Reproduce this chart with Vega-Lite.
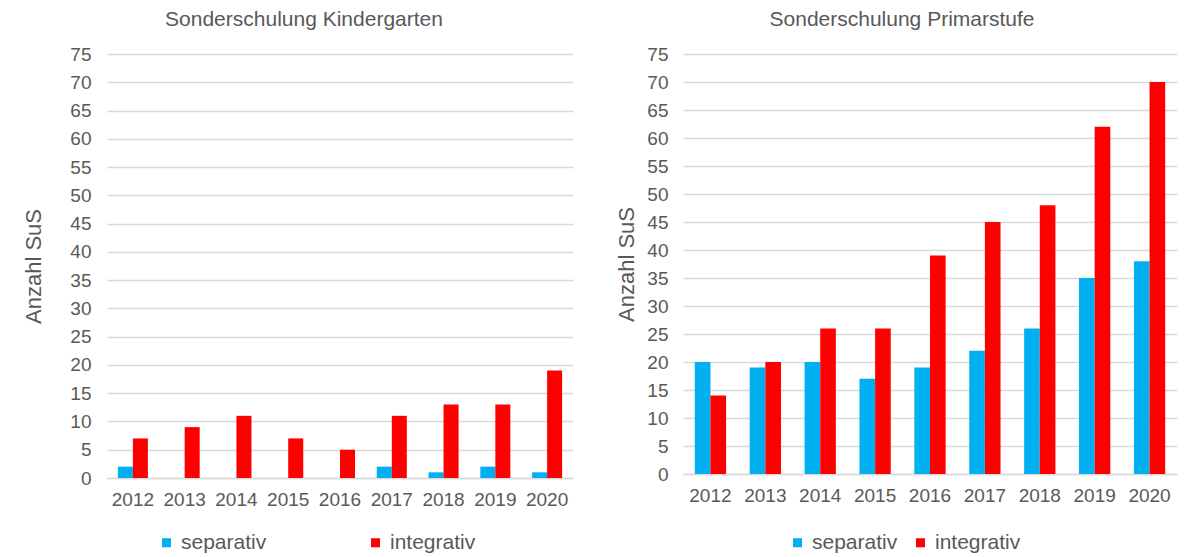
{
  "$schema": "https://vega.github.io/schema/vega-lite/v6.json",
  "background": "white",
  "padding": {"left": 22, "top": 9, "right": 5, "bottom": 5},
  "datasets": {
    "kindergarten": [
      {"Jahr": "2012", "Art": "separativ", "Anzahl": 2},
      {"Jahr": "2012", "Art": "integrativ", "Anzahl": 7},
      {"Jahr": "2013", "Art": "separativ", "Anzahl": 0},
      {"Jahr": "2013", "Art": "integrativ", "Anzahl": 9},
      {"Jahr": "2014", "Art": "separativ", "Anzahl": 0},
      {"Jahr": "2014", "Art": "integrativ", "Anzahl": 11},
      {"Jahr": "2015", "Art": "separativ", "Anzahl": 0},
      {"Jahr": "2015", "Art": "integrativ", "Anzahl": 7},
      {"Jahr": "2016", "Art": "separativ", "Anzahl": 0},
      {"Jahr": "2016", "Art": "integrativ", "Anzahl": 5},
      {"Jahr": "2017", "Art": "separativ", "Anzahl": 2},
      {"Jahr": "2017", "Art": "integrativ", "Anzahl": 11},
      {"Jahr": "2018", "Art": "separativ", "Anzahl": 1},
      {"Jahr": "2018", "Art": "integrativ", "Anzahl": 13},
      {"Jahr": "2019", "Art": "separativ", "Anzahl": 2},
      {"Jahr": "2019", "Art": "integrativ", "Anzahl": 13},
      {"Jahr": "2020", "Art": "separativ", "Anzahl": 1},
      {"Jahr": "2020", "Art": "integrativ", "Anzahl": 19}
    ],
    "primar": [
      {"Jahr": "2012", "Art": "separativ", "Anzahl": 20},
      {"Jahr": "2012", "Art": "integrativ", "Anzahl": 14},
      {"Jahr": "2013", "Art": "separativ", "Anzahl": 19},
      {"Jahr": "2013", "Art": "integrativ", "Anzahl": 20},
      {"Jahr": "2014", "Art": "separativ", "Anzahl": 20},
      {"Jahr": "2014", "Art": "integrativ", "Anzahl": 26},
      {"Jahr": "2015", "Art": "separativ", "Anzahl": 17},
      {"Jahr": "2015", "Art": "integrativ", "Anzahl": 26},
      {"Jahr": "2016", "Art": "separativ", "Anzahl": 19},
      {"Jahr": "2016", "Art": "integrativ", "Anzahl": 39},
      {"Jahr": "2017", "Art": "separativ", "Anzahl": 22},
      {"Jahr": "2017", "Art": "integrativ", "Anzahl": 45},
      {"Jahr": "2018", "Art": "separativ", "Anzahl": 26},
      {"Jahr": "2018", "Art": "integrativ", "Anzahl": 48},
      {"Jahr": "2019", "Art": "separativ", "Anzahl": 35},
      {"Jahr": "2019", "Art": "integrativ", "Anzahl": 62},
      {"Jahr": "2020", "Art": "separativ", "Anzahl": 38},
      {"Jahr": "2020", "Art": "integrativ", "Anzahl": 70}
    ]
  },
  "spacing": 42,
  "resolve": {
    "scale": {"x": "independent", "y": "independent", "xOffset": "independent", "color": "independent"},
    "legend": {"color": "independent"}
  },
  "hconcat": [
    {
      "data": {"name": "kindergarten"},
      "width": 466,
      "height": 424,
      "title": {"text": "Sonderschulung Kindergarten", "dx": -36},
      "mark": {"type": "bar"},
      "encoding": {
        "x": {"field": "Jahr", "type": "nominal", "scale": {"paddingInner": 0.42, "paddingOuter": 0.21}, "axis": {"title": null, "labelAngle": 0}},
        "xOffset": {"field": "Art", "type": "nominal", "scale": {"domain": ["separativ", "integrativ"], "paddingInner": 0, "paddingOuter": 0}},
        "y": {"field": "Anzahl", "type": "quantitative", "scale": {"domain": [0, 75], "nice": false}, "axis": {"title": "Anzahl SuS", "values": [0, 5, 10, 15, 20, 25, 30, 35, 40, 45, 50, 55, 60, 65, 70, 75], "titlePadding": 24, "labelPadding": 16}},
        "color": {"field": "Art", "type": "nominal", "scale": {"domain": ["separativ", "integrativ"], "range": ["#00B0F0", "#FF0000"]}, "legend": {"title": null, "orient": "none", "legendX": 49, "legendY": 478, "direction": "horizontal", "columnPadding": 98}}
      }
    },
    {
      "data": {"name": "primar"},
      "width": 494,
      "height": 420,
      "title": {"text": "Sonderschulung Primarstufe", "dx": -28},
      "mark": {"type": "bar"},
      "encoding": {
        "x": {"field": "Jahr", "type": "nominal", "scale": {"paddingInner": 0.43, "paddingOuter": 0.215}, "axis": {"title": null, "labelAngle": 0}},
        "xOffset": {"field": "Art", "type": "nominal", "scale": {"domain": ["separativ", "integrativ"], "paddingInner": 0, "paddingOuter": 0}},
        "y": {"field": "Anzahl", "type": "quantitative", "scale": {"domain": [0, 75], "nice": false}, "axis": {"title": "Anzahl SuS", "values": [0, 5, 10, 15, 20, 25, 30, 35, 40, 45, 50, 55, 60, 65, 70, 75], "titlePadding": 8, "labelPadding": 15}},
        "color": {"field": "Art", "type": "nominal", "scale": {"domain": ["separativ", "integrativ"], "range": ["#00B0F0", "#FF0000"]}, "legend": {"title": null, "orient": "none", "legendX": 104, "legendY": 478, "direction": "horizontal", "columnPadding": 12}}
      }
    }
  ],
  "config": {
    "font": "Liberation Sans",
    "view": {"stroke": null},
    "title": {"fontSize": 21, "fontWeight": "normal", "color": "#595959", "offset": 15, "anchor": "middle"},
    "axis": {"labelFontSize": 19, "labelColor": "#595959", "titleFontSize": 22, "titleFontWeight": "normal", "titleColor": "#595959", "ticks": false, "domain": false, "gridColor": "#d9d9d9", "gridWidth": 1.3},
    "axisX": {"grid": false, "domain": true, "domainColor": "#d9d9d9", "domainWidth": 1.3, "labelPadding": 12},
    "legend": {"labelFontSize": 21, "labelColor": "#595959", "symbolType": "square", "symbolSize": 81, "symbolStrokeWidth": 0, "labelOffset": 4, "padding": 0}
  }
}
